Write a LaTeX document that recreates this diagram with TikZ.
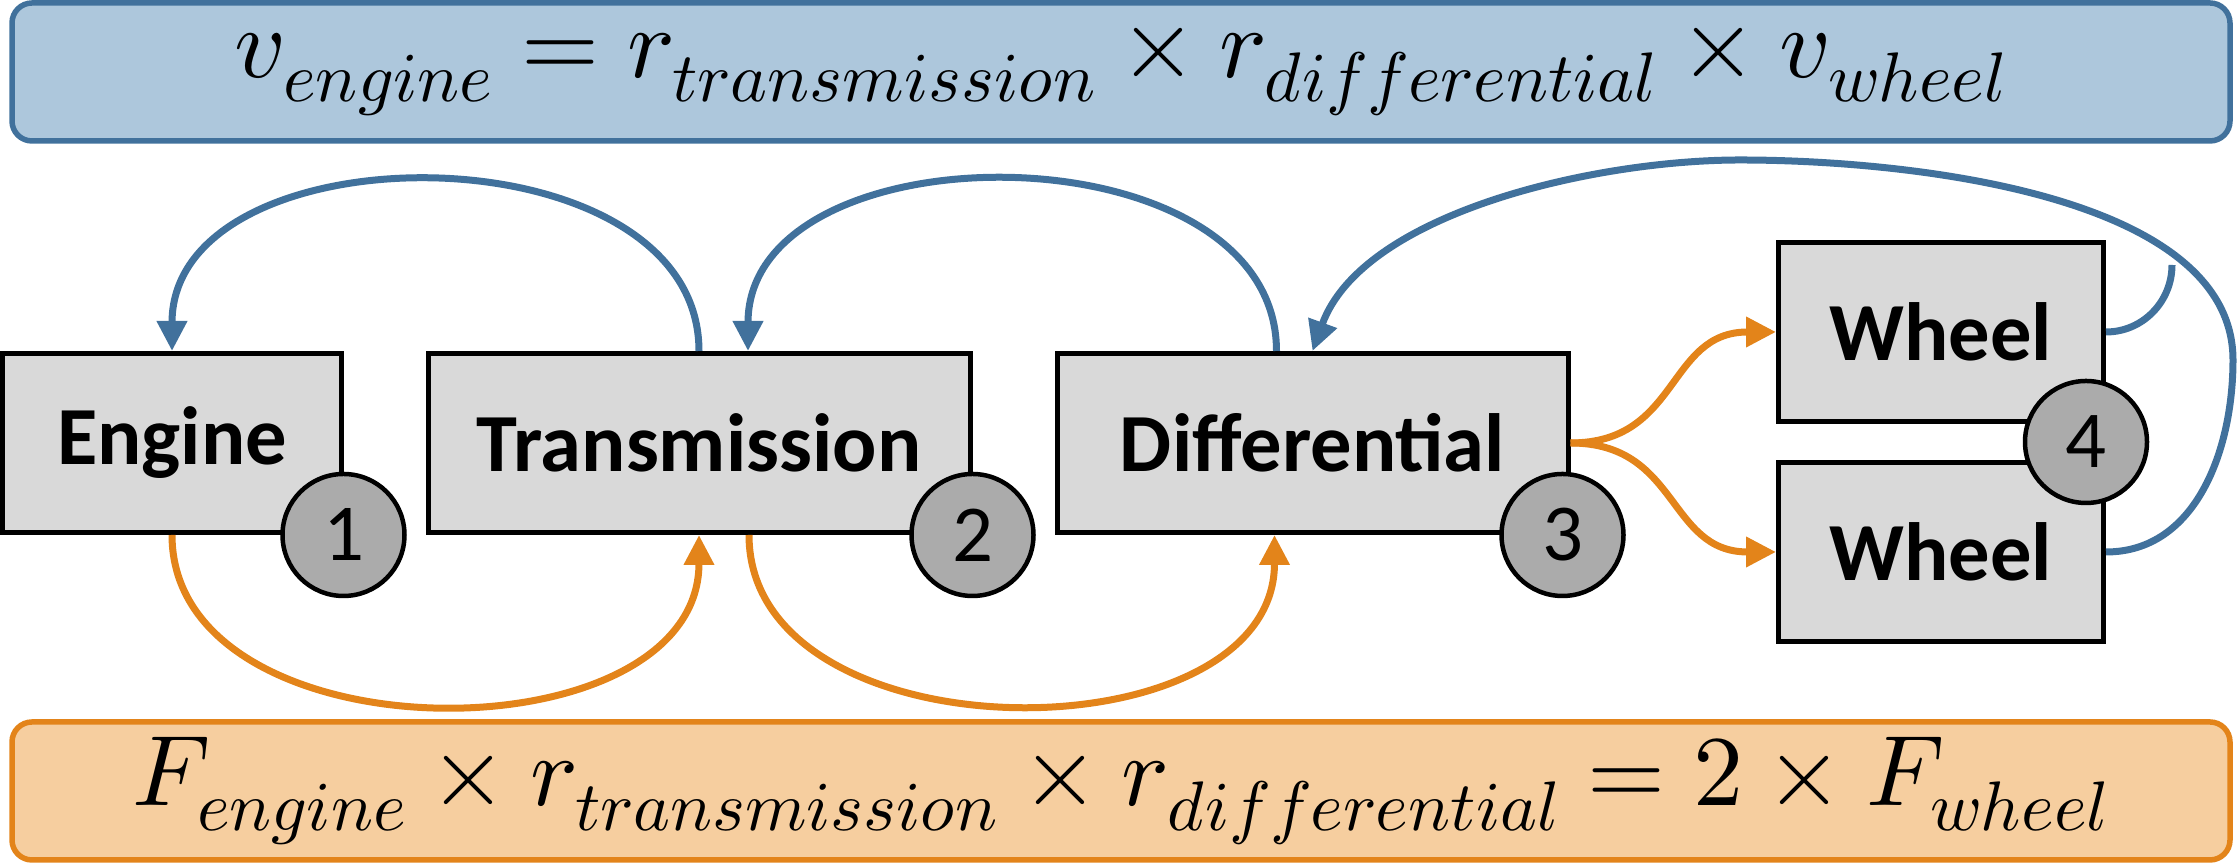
\documentclass[tikz,border=0pt]{standalone}
\usepackage{amsmath}
\usepackage{fontspec}
\usepackage{unicode-math}
\usepackage{tikz}
\usetikzlibrary{
  positioning, arrows.meta, calc,
}
\newfontfamily\blockfont{Carlito}
\definecolor{cVel}        {HTML}{41719C}
\definecolor{cVelFill}    {HTML}{ADC7DC}
\definecolor{cForce}      {HTML}{E3841A}
\definecolor{cForceFill}  {HTML}{F6CE9F}
\definecolor{cBlock}      {HTML}{D9D9D9}
\definecolor{cBadge}      {HTML}{ABABAB}

\tikzset{
  block/.style={draw=black, fill=cBlock, line width=0.5mm, inner sep=0pt,
    minimum height=17.9mm, font=\blockfont\bfseries\fontsize{23.5}{27}\selectfont},
  badge/.style={circle, draw=black, fill=cBadge, line width=0.45mm, inner sep=0pt,
    minimum size=12.2mm, font=\blockfont\fontsize{23}{26}\selectfont},
  banner/.style={rounded corners=2mm, line width=0.55mm, minimum width=221.8mm,
    minimum height=13.8mm, font=\fontsize{28.5}{32}\selectfont},
  velflow/.style={cVel, line width=0.7mm, -{Triangle[length=3mm, width=2.9mm]}},
  forceflow/.style={cForce, line width=0.7mm, -{Triangle[length=3mm, width=2.9mm]}},
}

\begin{document}
\begin{tikzpicture}
  \useasboundingbox (0,0) rectangle (223.9mm, 86.4mm);

  % equations
  \node[banner, draw=cVel, fill=cVelFill] (veleq) at (112.1mm, 79.2mm)
    {$v_{engine} = r_{transmission} \times r_{differential} \times v_{wheel}$};
  \node[banner, draw=cForce, fill=cForceFill] (forceeq) at (112.1mm, 7.3mm)
    {$F_{engine} \times r_{transmission} \times r_{differential} = 2 \times F_{wheel}$};

  % drivetrain
  \node[block, minimum width=33.8mm] (engine) at (17.2mm, 42.1mm) {Engine};
  \node[block, minimum width=54.2mm] (transm) at (69.9mm, 42.1mm) {Transmission};
  \node[block, minimum width=51.1mm] (diffl) at (131.25mm, 42.1mm) {Differential};
  \node[block, minimum width=32.5mm] (wheelA) at (194.1mm, 53.2mm) {Wheel};
  \node[block, minimum width=32.5mm] (wheelB) at (194.1mm, 31.2mm) {Wheel};

  % velocity, wheel back to engine
  \coordinate (loopE) at (223.3mm, 50.4mm);
  \coordinate (loopN) at (174mm, 70.4mm);
  \coordinate (joinW) at (217.2mm, 59.9mm);
  \draw[velflow] (transm.north) to[out=90, in=90, looseness=1.1] (engine.north);
  \draw[velflow] ([xshift=-3.6mm]diffl.north) to[out=90, in=90, looseness=1.1] ([xshift=4.9mm]transm.north);
  \draw[velflow] (wheelB.east) to[out=0, in=-90] (loopE)
    to[out=90, in=0, looseness=0.8] (loopN) to[out=180, in=70, looseness=0.8] (diffl.north);
  \draw[velflow, -] (wheelA.east) to[out=0, in=-90] (joinW);

  % force, engine to wheels
  \draw[forceflow] (engine.south) to[out=-90, in=-90, looseness=1.1] (transm.south);
  \draw[forceflow] ([xshift=5mm]transm.south) to[out=-90, in=-90, looseness=1.1] ([xshift=-3.8mm]diffl.south);
  \draw[forceflow] (diffl.east) to[out=0, in=180, looseness=1.2] (wheelA.west);
  \draw[forceflow] (diffl.east) to[out=0, in=180, looseness=1.2] (wheelB.west);

  \node[badge] (b1) at (engine.south east) {1};
  \node[badge] (b2) at (transm.south east) {2};
  \node[badge] (b3) at ([xshift=-0.8mm]diffl.south east) {3};
  \node[badge] (b4) at ($(wheelA.south east)!0.5!(wheelB.north east)+(-2mm,0)$) {4};
\end{tikzpicture}
\end{document}
